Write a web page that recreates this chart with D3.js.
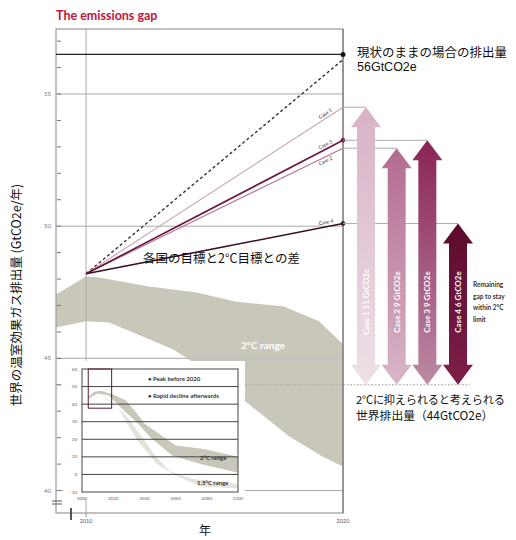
<!DOCTYPE html>
<html><head><meta charset="utf-8">
<script src="https://cdn.jsdelivr.net/npm/d3@7"></script>
<style>body{margin:0;background:#fff} svg{display:block}</style>
</head><body>
<svg id="c" width="516" height="540"></svg>
<script>
// ---------- data ----------
const years = [2010, 2020];
const bauValues = [48.2, 56.3];
const currentLevel = 56.5;
const caseNames = ["Case 1", "Case 2", "Case 3", "Case 4"];
const case2020 = [54.5, 52.95, 53.25, 50.1];
const caseGaps = [11, 9, 9, 6];
const target2C = 44;
const yLabelTicks = [40, 45, 50, 55];
const yMinorTicks = [40,41,42,43,44,45,46,47,48,49,50,51,52,53,54,55,56,57];
const xTickYears = [2010, 2020];
const bandUpperYears = [2008.83, 2010, 2010.5, 2012.45, 2014.3, 2015.8, 2017.7, 2019.07, 2020];
const bandUpper = [47.42, 48.1, 48.06, 47.72, 47.49, 47.15, 46.96, 46.40, 45.53];
const bandLowerYears = [2008.83, 2010, 2010.9, 2012.2, 2013.4, 2014.6, 2016.1, 2017.9, 2019.2, 2020];
const bandLower = [46.17, 46.40, 46.36, 45.83, 45.34, 44.58, 43.45, 42.05, 41.29, 40.91];
// inset
const insetXTicks = [2000, 2020, 2040, 2060, 2080, 2100];
const insetYTicks = [-10, 0, 10, 20, 30, 40, 50, 60];
const insetGrid = [0, 10, 20, 30, 40, 50];
const inset2CUpperYears = [2004, 2008, 2012, 2020, 2028, 2035, 2040, 2048, 2060, 2078, 2100];
const inset2CUpper = [44, 47, 47.6, 45.5, 42.2, 35, 29, 24, 16.5, 14.5, 10];
const inset2CLowerYears = [2004, 2010, 2017, 2025, 2035, 2044, 2058, 2076, 2100];
const inset2CLower = [43, 46, 45, 38, 29.7, 21, 10.6, 6, 1];
const inset15UpperYears = [2010, 2020, 2028, 2037, 2046, 2056, 2071, 2100];
const inset15Upper = [46.2, 41, 33.6, 23.2, 11.7, 2, -2.6, -5.5];
const inset15LowerYears = [2012, 2023, 2035, 2048, 2061, 2076, 2100];
const inset15Lower = [45, 38.3, 20, 6, -1, -6.7, -8];
const insetBoxYears = [2004, 2019];
const insetBoxValues = [37.7, 60];

// ---------- styles ----------
const caseLineColors = ["#c9a3b8", "#b27092", "#6d1540", "#3d0d22"];
const arrowTop = ["#d8b2c5", "#b36b90", "#8a2456", "#5c0a2e"];
const arrowBottom = ["#eee0e7", "#d8b6c7", "#bb8aa3", "#7e1f4a"];
const jp = "'Noto Sans CJK JP', 'Noto Sans', sans-serif";
const lat = "Lato, 'Open Sans', sans-serif";

const svg = d3.select("#c");
const defs = svg.append("defs");

const x = d3.scaleLinear().domain([2008.83, 2020]).range([56, 343]);
const y = d3.scaleLinear().domain([39.15, 57.46]).range([513, 29]);
const ax = d3.scalePoint().domain(caseNames).range([366, 458]);

// title
svg.append("text").attr("x", 56).attr("y", 20).text("The emissions gap")
  .attr("font-family", lat).attr("font-weight", "bold").attr("font-size", 12.5).attr("fill", "#c0163c");

// gridlines
svg.selectAll(".grid").data(yLabelTicks).join("line")
  .attr("x1", x.range()[0]).attr("x2", x.range()[1])
  .attr("y1", d => y(d)).attr("y2", d => y(d))
  .attr("stroke", "#aaa").attr("stroke-width", 1);

// band
const bandPts = bandUpperYears.map((yr, i) => [x(yr), y(bandUpper[i])])
  .concat(bandLowerYears.map((yr, i) => [x(yr), y(bandLower[i])]).reverse());
svg.append("path").attr("d", d3.line()(bandPts) + "Z").attr("fill", "#c9c7b9");
svg.append("text").attr("x", 241).attr("y", 349).text("2°C range")
  .attr("font-family", lat).attr("font-weight", "bold").attr("font-size", 10).attr("fill", "#fff");

// grid over band (lighter)
svg.selectAll(".grid2").data([45]).join("line")
  .attr("x1", x.range()[0]).attr("x2", x.range()[1])
  .attr("y1", d => y(d)).attr("y2", d => y(d))
  .attr("stroke", "#bbb").attr("stroke-width", 0.8);

// 2010 vertical
svg.append("line").attr("x1", x(2010)).attr("x2", x(2010)).attr("y1", 29).attr("y2", 513)
  .attr("stroke", "#aaa").attr("stroke-width", 1);

// 44 target dotted line
svg.append("line").attr("x1", 56).attr("x2", 470).attr("y1", y(target2C)).attr("y2", y(target2C))
  .attr("stroke", "#aaa").attr("stroke-width", 1).attr("stroke-dasharray", "2,1.5");

// frame
svg.append("rect").attr("x", 56).attr("y", 29).attr("width", 343 - 56).attr("height", 513 - 29)
  .attr("fill", "none").attr("stroke", "#999").attr("stroke-width", 1.2);
svg.append("line").attr("x1", 343).attr("x2", 343).attr("y1", 29).attr("y2", 513)
  .attr("stroke", "#777").attr("stroke-width", 1.2);

// minor ticks
svg.selectAll(".tk").data(yMinorTicks).join("line")
  .attr("x1", 57).attr("x2", 61).attr("y1", d => y(d)).attr("y2", d => y(d))
  .attr("stroke", "#777").attr("stroke-width", 1);
svg.selectAll(".tl").data(yLabelTicks).join("text")
  .attr("x", 51).attr("y", d => y(d) + 2).attr("text-anchor", "end").text(d => d)
  .attr("font-family", lat).attr("font-size", 6).attr("fill", "#777");

// axis break marks
svg.append("line").attr("x1", 52).attr("x2", 62).attr("y1", 501).attr("y2", 501).attr("stroke", "#555");
svg.append("line").attr("x1", 52).attr("x2", 62).attr("y1", 504).attr("y2", 504).attr("stroke", "#555");
svg.append("line").attr("x1", 71).attr("x2", 71).attr("y1", 508).attr("y2", 520).attr("stroke", "#444").attr("stroke-width", 1.8);
svg.selectAll(".xt").data(xTickYears).join("text")
  .attr("x", d => x(d)).attr("y", 523).attr("text-anchor", "middle").text(d => d)
  .attr("font-family", lat).attr("font-size", 5.5).attr("fill", "#555");
svg.append("line").attr("x1", x(2010)).attr("x2", x(2010)).attr("y1", 513).attr("y2", 517).attr("stroke", "#999");

// current level line
svg.append("line").attr("x1", 56).attr("x2", 343).attr("y1", y(currentLevel)).attr("y2", y(currentLevel))
  .attr("stroke", "#222").attr("stroke-width", 1.4);
svg.append("circle").attr("cx", 343).attr("cy", y(currentLevel)).attr("r", 2.5).attr("fill", "#111");

// BAU dashed
svg.append("line").attr("x1", x(years[0])).attr("y1", y(bauValues[0]))
  .attr("x2", x(years[1])).attr("y2", y(bauValues[1]))
  .attr("stroke", "#333").attr("stroke-width", 1.4).attr("stroke-dasharray", "3,2.5");

// case lines
caseNames.forEach((c, i) => {
  svg.append("line").attr("x1", x(years[0])).attr("y1", y(bauValues[0]))
    .attr("x2", x(years[1])).attr("y2", y(case2020[i]))
    .attr("stroke", caseLineColors[i]).attr("stroke-width", i >= 2 ? 1.6 : 1.1);
});
svg.append("circle").attr("cx", 343).attr("cy", y(case2020[2])).attr("r", 2.3).attr("fill", "#6d1540");
svg.append("circle").attr("cx", 343).attr("cy", y(case2020[3])).attr("r", 2.3).attr("fill", "#222");

// case labels
const labelOffsets = [-3, 6, -3, -3];
caseNames.forEach((c, i) => {
  const x0 = x(2019.35), yv = bauValues[0] + (case2020[i] - bauValues[0]) * (2019.35 - 2010) / 10;
  const ang = Math.atan2(y(case2020[i]) - y(bauValues[0]), x(2020) - x(2010)) * 180 / Math.PI;
  svg.append("text").attr("transform", `translate(${x0},${y(yv) + labelOffsets[i]}) rotate(${ang})`)
    .attr("text-anchor", "middle").text(c)
    .attr("font-family", lat).attr("font-size", 5).attr("fill", "#333");
});

// connector lines from frame to arrows
caseNames.forEach((c, i) => {
  svg.append("line").attr("x1", 343).attr("x2", ax(c))
    .attr("y1", y(case2020[i])).attr("y2", y(case2020[i]))
    .attr("stroke", "#aaa").attr("stroke-width", 1);
});

// arrows
caseNames.forEach((c, i) => {
  const g = defs.append("linearGradient").attr("id", "g" + i)
    .attr("x1", 0).attr("y1", 0).attr("x2", 0).attr("y2", 1);
  g.append("stop").attr("offset", "0%").attr("stop-color", arrowTop[i]);
  g.append("stop").attr("offset", "100%").attr("stop-color", arrowBottom[i]);
  const cx = ax(c), t = y(case2020[i]), b = y(target2C), hw = 15, sw = 9, hl = 20;
  const pts = [[cx, t], [cx + hw, t + hl], [cx + sw, t + hl], [cx + sw, b - hl], [cx + hw, b - hl], [cx, b],
    [cx - hw, b - hl], [cx - sw, b - hl], [cx - sw, t + hl], [cx - hw, t + hl]];
  svg.append("path").attr("d", d3.line()(pts) + "Z").attr("fill", `url(#g${i})`);
  svg.append("text").attr("transform", `translate(${cx + 3},302) rotate(-90)`)
    .attr("text-anchor", "middle").text(`${c}  ${caseGaps[i]} GtCO2e`)
    .attr("font-family", lat).attr("font-weight", "bold").attr("font-size", 8).attr("fill", "#fff");
});

// remaining gap text
["Remaining", "gap to stay", "within 2°C", "limit"].forEach((t, i) => {
  svg.append("text").attr("x", 473).attr("y", 287 + i * 11.5).text(t)
    .attr("font-family", lat).attr("font-weight", "bold").attr("font-size", 6.5).attr("fill", "#333");
});

// right side Japanese labels
svg.append("text").attr("x", 357).attr("y", 57).text("現状のままの場合の排出量")
  .attr("font-family", jp).attr("font-size", 12.5).attr("fill", "#111");
svg.append("text").attr("x", 357).attr("y", 71).text("56GtCO2e")
  .attr("font-family", "'Liberation Sans', Arial, sans-serif").attr("font-size", 12.5).attr("fill", "#111");
svg.append("text").attr("x", 356).attr("y", 404).text("2°Cに抑えられると考えられる")
  .attr("font-family", jp).attr("font-size", 11.2).attr("letter-spacing", -0.2).attr("fill", "#111");
svg.append("text").attr("x", 356).attr("y", 420).text("世界排出量（44GtCO2e）")
  .attr("font-family", jp).attr("font-size", 11.8).attr("fill", "#111");

// in-plot label
svg.append("text").attr("x", 143).attr("y", 263).text("各国の目標と2°C目標との差")
  .attr("font-family", jp).attr("font-size", 12.5).attr("fill", "#111");

// axis titles
svg.append("text").attr("transform", "translate(21,295) rotate(-90)").attr("text-anchor", "middle")
  .text("世界の温室効果ガス排出量 (GtCO2e/年)")
  .attr("font-family", jp).attr("font-size", 12.5).attr("fill", "#111");
svg.append("text").attr("x", 205).attr("y", 535).attr("text-anchor", "middle").text("年")
  .attr("font-family", jp).attr("font-size", 12).attr("fill", "#111");

// ---------- inset ----------
const ix = d3.scaleLinear().domain([2000, 2100]).range([82, 238]);
const iy = d3.scaleLinear().domain([-10, 60]).range([492, 369]);
svg.append("rect").attr("x", 63).attr("y", 361).attr("width", 182).attr("height", 139).attr("fill", "#fff");
const band = (uy, uv, ly, lv) => d3.line()(uy.map((yr, i) => [ix(yr), iy(uv[i])])
  .concat(ly.map((yr, i) => [ix(yr), iy(lv[i])]).reverse())) + "Z";
svg.append("path").attr("d", band(inset15UpperYears, inset15Upper, inset15LowerYears, inset15Lower)).attr("fill", "#e3e3dc");
svg.append("path").attr("d", band(inset2CUpperYears, inset2CUpper, inset2CLowerYears, inset2CLower)).attr("fill", "#c9c7b9");
svg.selectAll(".ig").data(insetGrid).join("line")
  .attr("x1", ix(2000)).attr("x2", ix(2100)).attr("y1", d => iy(d)).attr("y2", d => iy(d))
  .attr("stroke", "#444").attr("stroke-width", 1);
svg.append("rect").attr("x", ix(2000)).attr("y", iy(60)).attr("width", ix(2100) - ix(2000)).attr("height", iy(-10) - iy(60))
  .attr("fill", "none").attr("stroke", "#444").attr("stroke-width", 1);
svg.append("rect").attr("x", ix(insetBoxYears[0])).attr("y", iy(insetBoxValues[1]))
  .attr("width", ix(insetBoxYears[1]) - ix(insetBoxYears[0])).attr("height", iy(insetBoxValues[0]) - iy(insetBoxValues[1]))
  .attr("fill", "none").attr("stroke", "#5a1a35").attr("stroke-width", 1);
svg.selectAll(".iyt").data(insetYTicks).join("text")
  .attr("x", 77).attr("y", d => iy(d) + 1.5).attr("text-anchor", "end").text(d => d)
  .attr("font-family", lat).attr("font-size", 4.5).attr("fill", "#666");
svg.selectAll(".ixt").data(insetXTicks).join("text")
  .attr("x", d => ix(d)).attr("y", 500).attr("text-anchor", "middle").text(d => d)
  .attr("font-family", lat).attr("font-size", 4.5).attr("fill", "#666");
svg.append("text").attr("x", 148).attr("y", 381).text("• Peak before 2020")
  .attr("font-family", lat).attr("font-weight", "bold").attr("font-size", 6).attr("fill", "#333");
svg.append("text").attr("x", 148).attr("y", 398).text("• Rapid decline afterwards")
  .attr("font-family", lat).attr("font-weight", "bold").attr("font-size", 6).attr("fill", "#333");
svg.append("text").attr("x", 200).attr("y", 460).text("2°C range")
  .attr("font-family", lat).attr("font-weight", "bold").attr("font-size", 6).attr("fill", "#333");
svg.append("text").attr("x", 197).attr("y", 485).text("1.5°C range")
  .attr("font-family", lat).attr("font-weight", "bold").attr("font-size", 6).attr("fill", "#333");
</script>
</body></html>
